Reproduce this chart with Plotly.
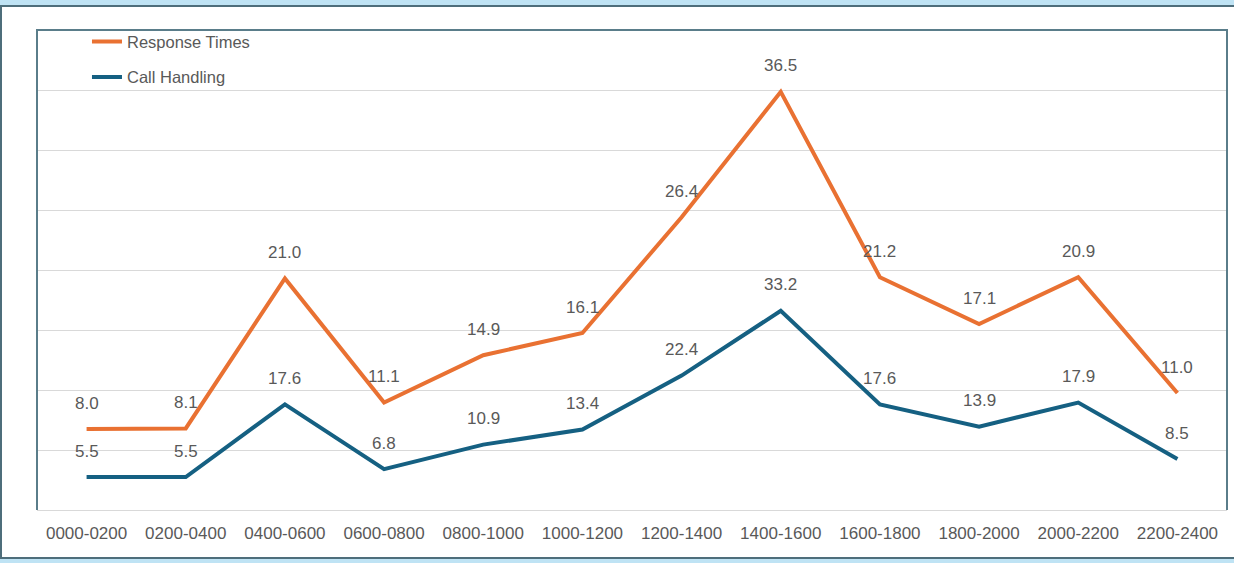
import numpy as np
import plotly.graph_objects as go

categories = ["0000-0200", "0200-0400", "0400-0600", "0600-0800", "0800-1000",
              "1000-1200", "1200-1400", "1400-1600", "1600-1800", "1800-2000",
              "2000-2200", "2200-2400"]
call_handling = [5.5, 5.5, 17.6, 6.8, 10.9, 13.4, 22.4, 33.2, 17.6, 13.9, 17.9, 8.5]
response_times = [8.0, 8.1, 21.0, 11.1, 14.9, 16.1, 26.4, 36.5, 21.2, 17.1, 20.9, 11.0]

ORANGE = "#E97132"
BLUE = "#156082"
TEXT = "#595959"
FONT = "Liberation Sans"

fig = go.Figure()
fig.add_trace(go.Scatter(
    x=categories, y=call_handling, name="Call Handling", mode="lines",
    stackgroup="one", fill="none", line=dict(color=BLUE, width=4),
    legendgroup="ch", legendrank=2))
fig.add_trace(go.Scatter(
    x=categories, y=response_times, name="Response Times", mode="lines",
    stackgroup="one", fill="none", line=dict(color=ORANGE, width=4),
    legendgroup="rt", legendrank=1))

# data labels (positioned on stacked values)
stack_ch = np.array(call_handling)
stack_rt = stack_ch + np.array(response_times)
annotations = []
for vals, tops in ((call_handling, stack_ch), (response_times, stack_rt)):
    for c, v, t in zip(categories, vals, tops):
        annotations.append(dict(
            x=c, y=float(t), xref="x", yref="y", text=f"{v:.1f}",
            showarrow=False, yanchor="middle", yshift=26,
            font=dict(family=FONT, size=17, color=TEXT)))

l, r, t, b = 37, 7, 30, 53
W, H = 1234, 563
pw, ph = W - l - r, H - t - b

def px(xp):
    return (xp - l) / pw

def py(yp):
    return (H - b - yp) / ph

shapes = [
    # outer chart box
    dict(type="rect", xref="paper", yref="paper",
         x0=px(1), x1=px(1245), y0=py(558), y1=py(6),
         line=dict(color="#4e6e7b", width=2), fillcolor="white", layer="below"),
    # plot area border (left, top, right)
    dict(type="path", xref="paper", yref="paper",
         path="M 0,0 L 0,1 L 1,1 L 1,0",
         line=dict(color="#5a7d8a", width=2), layer="above"),
]

fig.update_layout(
    width=W, height=H,
    margin=dict(l=l, r=r, t=t, b=b),
    paper_bgcolor="#bfe3f4",
    plot_bgcolor="white",
    font=dict(family=FONT, size=16, color=TEXT),
    showlegend=True,
    legend=dict(x=0.042, y=1.012, xanchor="left", yanchor="top",
                bgcolor="rgba(0,0,0,0)", font=dict(family=FONT, size=16.5, color=TEXT),
                tracegroupgap=11, traceorder="grouped"),
    shapes=shapes,
    annotations=annotations,
    xaxis=dict(type="category", range=[-0.5, 11.5], showgrid=False,
               showline=False, zeroline=False, ticks="",
               tickfont=dict(family=FONT, size=17, color=TEXT),
               ticklabelstandoff=11),
    yaxis=dict(range=[0, 80], dtick=10, showgrid=True, gridcolor="#d9d9d9",
               gridwidth=1, showticklabels=False, zeroline=True,
               zerolinecolor="#d9d9d9", zerolinewidth=1, showline=False),
)

fig.write_html("out.html",
               config={"displayModeBar": False},
               post_script="document.body.style.margin='0px';"
                           "document.body.style.overflow='hidden';")
